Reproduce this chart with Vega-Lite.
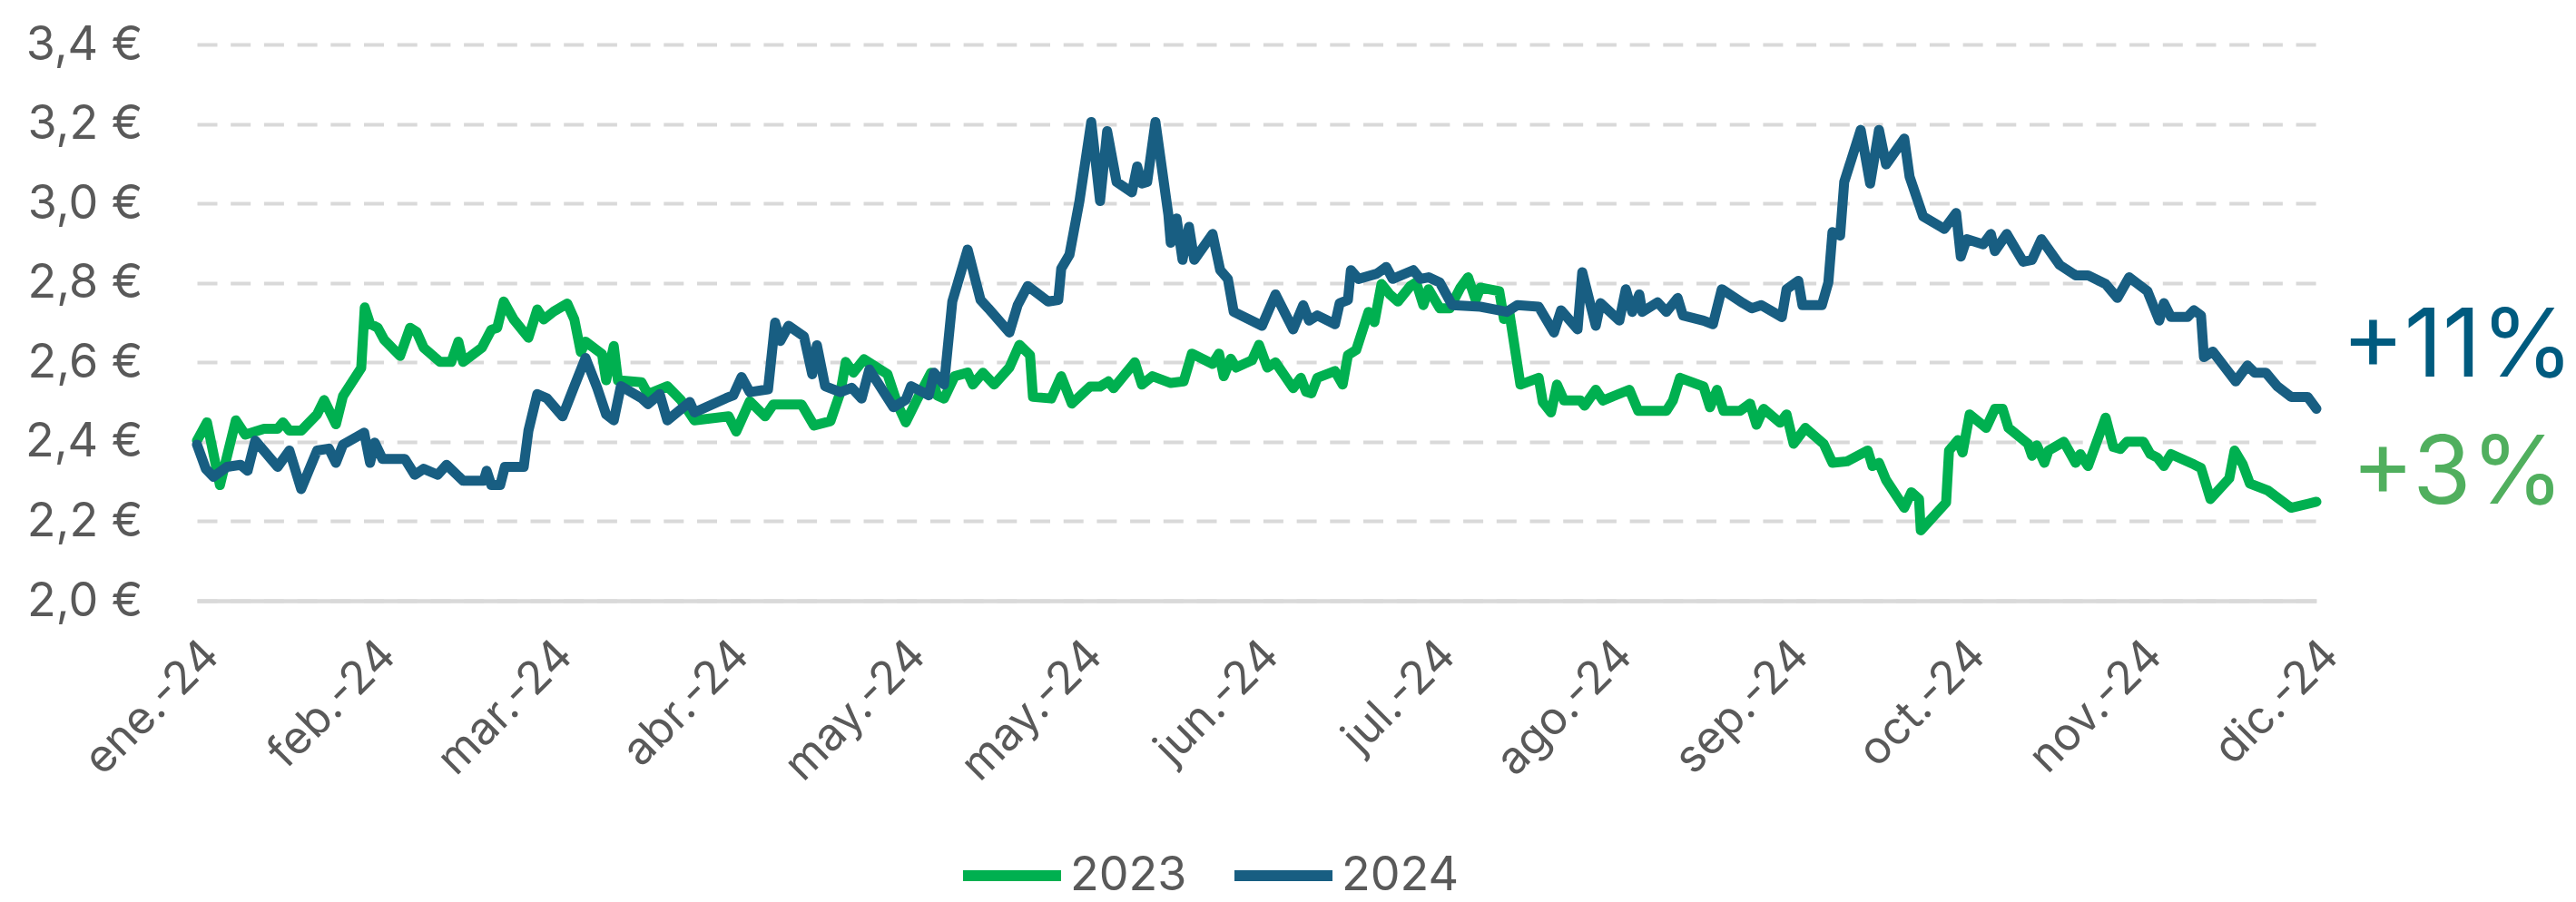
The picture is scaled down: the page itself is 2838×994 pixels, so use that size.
{
  "$schema": "https://vega.github.io/schema/vega-lite/v6.json",
  "width": 2335,
  "height": 613,
  "autosize": {"type": "none"},
  "padding": {"left": 217, "top": 49, "right": 286, "bottom": 332},
  "background": "white",
  "config": {"view": {"stroke": null}, "font": "Inter"},
  "datasets": {
    "prices": [
      {"s":"2023","d":0,"v":2.403},{"s":"2023","d":1.7,"v":2.449},{"s":"2023","d":3.9,"v":2.291},{"s":"2023","d":6.6,"v":2.454},{"s":"2023","d":8.2,"v":2.418},{"s":"2023","d":11.4,"v":2.433},{"s":"2023","d":13.7,"v":2.433},{"s":"2023","d":14.6,"v":2.449},{"s":"2023","d":15.7,"v":2.428},{"s":"2023","d":17.7,"v":2.428},{"s":"2023","d":20.4,"v":2.469},{"s":"2023","d":21.6,"v":2.505},{"s":"2023","d":23.6,"v":2.444},{"s":"2023","d":24.8,"v":2.515},{"s":"2023","d":27.9,"v":2.586},{"s":"2023","d":28.5,"v":2.738},{"s":"2023","d":29.4,"v":2.697},{"s":"2023","d":30.7,"v":2.687},{"s":"2023","d":31.8,"v":2.657},{"s":"2023","d":34.5,"v":2.616},{"s":"2023","d":36.2,"v":2.687},{"s":"2023","d":37.3,"v":2.677},{"s":"2023","d":38.5,"v":2.637},{"s":"2023","d":41.3,"v":2.601},{"s":"2023","d":43.2,"v":2.601},{"s":"2023","d":44.4,"v":2.652},{"s":"2023","d":45.2,"v":2.601},{"s":"2023","d":48.4,"v":2.637},{"s":"2023","d":50.0,"v":2.682},{"s":"2023","d":51.0,"v":2.687},{"s":"2023","d":52.1,"v":2.753},{"s":"2023","d":53.8,"v":2.708},{"s":"2023","d":56.3,"v":2.662},{"s":"2023","d":57.8,"v":2.733},{"s":"2023","d":58.9,"v":2.708},{"s":"2023","d":60.6,"v":2.728},{"s":"2023","d":62.9,"v":2.748},{"s":"2023","d":64.1,"v":2.708},{"s":"2023","d":65.2,"v":2.626},{"s":"2023","d":66.0,"v":2.652},{"s":"2023","d":68.8,"v":2.621},{"s":"2023","d":69.5,"v":2.555},{"s":"2023","d":70.8,"v":2.641},{"s":"2023","d":71.5,"v":2.555},{"s":"2023","d":75.5,"v":2.550},{"s":"2023","d":76.6,"v":2.520},{"s":"2023","d":79.9,"v":2.540},{"s":"2023","d":82.2,"v":2.505},{"s":"2023","d":84.5,"v":2.454},{"s":"2023","d":90.3,"v":2.464},{"s":"2023","d":91.6,"v":2.426},{"s":"2023","d":93.9,"v":2.502},{"s":"2023","d":96.5,"v":2.464},{"s":"2023","d":97.9,"v":2.494},{"s":"2023","d":102.7,"v":2.494},{"s":"2023","d":104.8,"v":2.441},{"s":"2023","d":107.6,"v":2.452},{"s":"2023","d":109.3,"v":2.525},{"s":"2023","d":110.2,"v":2.601},{"s":"2023","d":111.5,"v":2.574},{"s":"2023","d":113.3,"v":2.608},{"s":"2023","d":117.3,"v":2.570},{"s":"2023","d":119.0,"v":2.494},{"s":"2023","d":120.4,"v":2.449},{"s":"2023","d":122.4,"v":2.509},{"s":"2023","d":124.7,"v":2.574},{"s":"2023","d":125.7,"v":2.517},{"s":"2023","d":126.9,"v":2.509},{"s":"2023","d":128.7,"v":2.565},{"s":"2023","d":130.9,"v":2.574},{"s":"2023","d":131.8,"v":2.544},{"s":"2023","d":133.5,"v":2.574},{"s":"2023","d":135.4,"v":2.544},{"s":"2023","d":138.0,"v":2.587},{"s":"2023","d":139.7,"v":2.644},{"s":"2023","d":141.5,"v":2.618},{"s":"2023","d":142.0,"v":2.513},{"s":"2023","d":145.1,"v":2.509},{"s":"2023","d":146.8,"v":2.565},{"s":"2023","d":148.6,"v":2.496},{"s":"2023","d":151.7,"v":2.539},{"s":"2023","d":153.4,"v":2.539},{"s":"2023","d":154.8,"v":2.552},{"s":"2023","d":155.7,"v":2.535},{"s":"2023","d":159.3,"v":2.600},{"s":"2023","d":160.5,"v":2.544},{"s":"2023","d":162.3,"v":2.565},{"s":"2023","d":165.4,"v":2.548},{"s":"2023","d":167.6,"v":2.552},{"s":"2023","d":169.0,"v":2.622},{"s":"2023","d":172.5,"v":2.596},{"s":"2023","d":173.6,"v":2.622},{"s":"2023","d":174.4,"v":2.565},{"s":"2023","d":175.6,"v":2.609},{"s":"2023","d":176.5,"v":2.587},{"s":"2023","d":179.2,"v":2.605},{"s":"2023","d":180.4,"v":2.644},{"s":"2023","d":181.8,"v":2.587},{"s":"2023","d":183.2,"v":2.600},{"s":"2023","d":186.2,"v":2.535},{"s":"2023","d":187.5,"v":2.561},{"s":"2023","d":188.4,"v":2.526},{"s":"2023","d":189.3,"v":2.522},{"s":"2023","d":190.3,"v":2.561},{"s":"2023","d":193.3,"v":2.578},{"s":"2023","d":194.6,"v":2.544},{"s":"2023","d":195.5,"v":2.618},{"s":"2023","d":196.9,"v":2.631},{"s":"2023","d":199.0,"v":2.727},{"s":"2023","d":200.0,"v":2.701},{"s":"2023","d":201.2,"v":2.797},{"s":"2023","d":202.6,"v":2.771},{"s":"2023","d":204.0,"v":2.753},{"s":"2023","d":206.1,"v":2.792},{"s":"2023","d":207.1,"v":2.801},{"s":"2023","d":208.3,"v":2.744},{"s":"2023","d":209.2,"v":2.784},{"s":"2023","d":211.1,"v":2.736},{"s":"2023","d":212.8,"v":2.736},{"s":"2023","d":214.6,"v":2.788},{"s":"2023","d":215.9,"v":2.814},{"s":"2023","d":217.2,"v":2.757},{"s":"2023","d":218.0,"v":2.788},{"s":"2023","d":221.2,"v":2.779},{"s":"2023","d":222.0,"v":2.709},{"s":"2023","d":222.9,"v":2.727},{"s":"2023","d":224.8,"v":2.544},{"s":"2023","d":227.9,"v":2.561},{"s":"2023","d":228.6,"v":2.500},{"s":"2023","d":230.0,"v":2.474},{"s":"2023","d":231.0,"v":2.544},{"s":"2023","d":232.2,"v":2.504},{"s":"2023","d":235.0,"v":2.504},{"s":"2023","d":235.7,"v":2.491},{"s":"2023","d":237.6,"v":2.531},{"s":"2023","d":238.8,"v":2.504},{"s":"2023","d":243.3,"v":2.531},{"s":"2023","d":244.8,"v":2.478},{"s":"2023","d":249.6,"v":2.478},{"s":"2023","d":250.7,"v":2.504},{"s":"2023","d":251.9,"v":2.561},{"s":"2023","d":255.9,"v":2.539},{"s":"2023","d":257.0,"v":2.487},{"s":"2023","d":258.2,"v":2.531},{"s":"2023","d":259.3,"v":2.478},{"s":"2023","d":262.1,"v":2.478},{"s":"2023","d":263.8,"v":2.496},{"s":"2023","d":264.9,"v":2.443},{"s":"2023","d":266.1,"v":2.483},{"s":"2023","d":268.9,"v":2.448},{"s":"2023","d":270.0,"v":2.469},{"s":"2023","d":271.2,"v":2.395},{"s":"2023","d":273.2,"v":2.435},{"s":"2023","d":276.3,"v":2.395},{"s":"2023","d":277.8,"v":2.347},{"s":"2023","d":280.3,"v":2.351},{"s":"2023","d":283.8,"v":2.378},{"s":"2023","d":284.6,"v":2.339},{"s":"2023","d":285.7,"v":2.347},{"s":"2023","d":286.9,"v":2.304},{"s":"2023","d":290.0,"v":2.234},{"s":"2023","d":291.2,"v":2.273},{"s":"2023","d":292.5,"v":2.256},{"s":"2023","d":292.8,"v":2.177},{"s":"2023","d":297.1,"v":2.247},{"s":"2023","d":297.6,"v":2.378},{"s":"2023","d":299.1,"v":2.404},{"s":"2023","d":299.9,"v":2.373},{"s":"2023","d":301.1,"v":2.469},{"s":"2023","d":303.9,"v":2.435},{"s":"2023","d":305.4,"v":2.483},{"s":"2023","d":306.7,"v":2.483},{"s":"2023","d":307.7,"v":2.435},{"s":"2023","d":311.0,"v":2.395},{"s":"2023","d":311.7,"v":2.365},{"s":"2023","d":312.5,"v":2.391},{"s":"2023","d":313.8,"v":2.347},{"s":"2023","d":314.5,"v":2.378},{"s":"2023","d":317.1,"v":2.400},{"s":"2023","d":319.1,"v":2.347},{"s":"2023","d":319.9,"v":2.369},{"s":"2023","d":321.2,"v":2.339},{"s":"2023","d":324.2,"v":2.461},{"s":"2023","d":325.5,"v":2.387},{"s":"2023","d":326.7,"v":2.382},{"s":"2023","d":327.8,"v":2.400},{"s":"2023","d":330.6,"v":2.400},{"s":"2023","d":331.8,"v":2.369},{"s":"2023","d":333.0,"v":2.360},{"s":"2023","d":334.1,"v":2.339},{"s":"2023","d":335.3,"v":2.369},{"s":"2023","d":339.2,"v":2.343},{"s":"2023","d":340.4,"v":2.334},{"s":"2023","d":342.0,"v":2.256},{"s":"2023","d":345.2,"v":2.308},{"s":"2023","d":346.1,"v":2.378},{"s":"2023","d":347.5,"v":2.343},{"s":"2023","d":348.7,"v":2.295},{"s":"2023","d":351.8,"v":2.277},{"s":"2023","d":355.7,"v":2.234},{"s":"2023","d":360,"v":2.249},
      {"s":"2024","d":0,"v":2.393},{"s":"2024","d":1.5,"v":2.332},{"s":"2024","d":2.8,"v":2.312},{"s":"2024","d":5.1,"v":2.337},{"s":"2024","d":7.4,"v":2.342},{"s":"2024","d":8.6,"v":2.327},{"s":"2024","d":9.9,"v":2.403},{"s":"2024","d":13.7,"v":2.337},{"s":"2024","d":15.7,"v":2.378},{"s":"2024","d":17.7,"v":2.281},{"s":"2024","d":20.4,"v":2.378},{"s":"2024","d":22.4,"v":2.383},{"s":"2024","d":23.6,"v":2.347},{"s":"2024","d":24.8,"v":2.393},{"s":"2024","d":28.4,"v":2.423},{"s":"2024","d":29.4,"v":2.347},{"s":"2024","d":30.2,"v":2.398},{"s":"2024","d":31.5,"v":2.357},{"s":"2024","d":35.3,"v":2.357},{"s":"2024","d":37.0,"v":2.317},{"s":"2024","d":38.5,"v":2.332},{"s":"2024","d":40.9,"v":2.317},{"s":"2024","d":42.4,"v":2.342},{"s":"2024","d":45.2,"v":2.302},{"s":"2024","d":48.7,"v":2.302},{"s":"2024","d":49.2,"v":2.327},{"s":"2024","d":50.0,"v":2.291},{"s":"2024","d":51.5,"v":2.291},{"s":"2024","d":52.3,"v":2.337},{"s":"2024","d":55.5,"v":2.337},{"s":"2024","d":56.3,"v":2.428},{"s":"2024","d":57.8,"v":2.520},{"s":"2024","d":59.4,"v":2.510},{"s":"2024","d":62.1,"v":2.464},{"s":"2024","d":64.1,"v":2.540},{"s":"2024","d":66.0,"v":2.611},{"s":"2024","d":68.0,"v":2.535},{"s":"2024","d":69.5,"v":2.469},{"s":"2024","d":70.8,"v":2.454},{"s":"2024","d":72.0,"v":2.540},{"s":"2024","d":75.5,"v":2.510},{"s":"2024","d":76.6,"v":2.495},{"s":"2024","d":78.6,"v":2.520},{"s":"2024","d":79.9,"v":2.454},{"s":"2024","d":83.7,"v":2.500},{"s":"2024","d":84.5,"v":2.474},{"s":"2024","d":89.9,"v":2.510},{"s":"2024","d":91.1,"v":2.517},{"s":"2024","d":92.5,"v":2.563},{"s":"2024","d":93.9,"v":2.525},{"s":"2024","d":97.0,"v":2.532},{"s":"2024","d":98.2,"v":2.700},{"s":"2024","d":99.1,"v":2.654},{"s":"2024","d":100.5,"v":2.692},{"s":"2024","d":103.1,"v":2.665},{"s":"2024","d":104.5,"v":2.570},{"s":"2024","d":105.3,"v":2.643},{"s":"2024","d":106.7,"v":2.540},{"s":"2024","d":109.3,"v":2.525},{"s":"2024","d":111.2,"v":2.536},{"s":"2024","d":112.9,"v":2.509},{"s":"2024","d":114.2,"v":2.582},{"s":"2024","d":118.3,"v":2.487},{"s":"2024","d":120.4,"v":2.506},{"s":"2024","d":121.3,"v":2.540},{"s":"2024","d":124.3,"v":2.517},{"s":"2024","d":125.2,"v":2.574},{"s":"2024","d":126.9,"v":2.544},{"s":"2024","d":128.3,"v":2.753},{"s":"2024","d":130.9,"v":2.884},{"s":"2024","d":133.1,"v":2.757},{"s":"2024","d":134.4,"v":2.736},{"s":"2024","d":138.0,"v":2.675},{"s":"2024","d":139.4,"v":2.744},{"s":"2024","d":141.1,"v":2.792},{"s":"2024","d":144.6,"v":2.753},{"s":"2024","d":146.3,"v":2.757},{"s":"2024","d":146.8,"v":2.836},{"s":"2024","d":148.2,"v":2.871},{"s":"2024","d":149.9,"v":3.006},{"s":"2024","d":151.9,"v":3.205},{"s":"2024","d":153.4,"v":3.006},{"s":"2024","d":154.6,"v":3.182},{"s":"2024","d":156.2,"v":3.054},{"s":"2024","d":158.8,"v":3.028},{"s":"2024","d":159.7,"v":3.093},{"s":"2024","d":160.5,"v":3.050},{"s":"2024","d":161.4,"v":3.054},{"s":"2024","d":162.8,"v":3.205},{"s":"2024","d":165.0,"v":2.971},{"s":"2024","d":165.4,"v":2.901},{"s":"2024","d":166.4,"v":2.962},{"s":"2024","d":167.4,"v":2.858},{"s":"2024","d":168.5,"v":2.941},{"s":"2024","d":169.4,"v":2.858},{"s":"2024","d":172.5,"v":2.923},{"s":"2024","d":173.8,"v":2.832},{"s":"2024","d":175.1,"v":2.810},{"s":"2024","d":176.1,"v":2.727},{"s":"2024","d":180.9,"v":2.692},{"s":"2024","d":183.2,"v":2.771},{"s":"2024","d":186.2,"v":2.683},{"s":"2024","d":187.9,"v":2.744},{"s":"2024","d":188.9,"v":2.705},{"s":"2024","d":190.3,"v":2.718},{"s":"2024","d":193.3,"v":2.696},{"s":"2024","d":194.1,"v":2.749},{"s":"2024","d":195.5,"v":2.757},{"s":"2024","d":196.0,"v":2.832},{"s":"2024","d":197.3,"v":2.810},{"s":"2024","d":200.4,"v":2.823},{"s":"2024","d":202.0,"v":2.840},{"s":"2024","d":203.1,"v":2.810},{"s":"2024","d":206.6,"v":2.832},{"s":"2024","d":207.8,"v":2.810},{"s":"2024","d":209.2,"v":2.814},{"s":"2024","d":211.1,"v":2.801},{"s":"2024","d":213.2,"v":2.744},{"s":"2024","d":218.0,"v":2.740},{"s":"2024","d":222.5,"v":2.727},{"s":"2024","d":224.3,"v":2.744},{"s":"2024","d":227.9,"v":2.740},{"s":"2024","d":230.5,"v":2.675},{"s":"2024","d":231.7,"v":2.731},{"s":"2024","d":234.5,"v":2.683},{"s":"2024","d":235.3,"v":2.827},{"s":"2024","d":237.6,"v":2.692},{"s":"2024","d":238.4,"v":2.749},{"s":"2024","d":241.6,"v":2.705},{"s":"2024","d":242.7,"v":2.784},{"s":"2024","d":243.8,"v":2.727},{"s":"2024","d":245.0,"v":2.771},{"s":"2024","d":245.5,"v":2.727},{"s":"2024","d":248.1,"v":2.751},{"s":"2024","d":249.6,"v":2.727},{"s":"2024","d":251.5,"v":2.762},{"s":"2024","d":252.4,"v":2.718},{"s":"2024","d":255.9,"v":2.705},{"s":"2024","d":257.5,"v":2.696},{"s":"2024","d":259.0,"v":2.784},{"s":"2024","d":262.6,"v":2.749},{"s":"2024","d":264.1,"v":2.736},{"s":"2024","d":265.7,"v":2.744},{"s":"2024","d":269.2,"v":2.714},{"s":"2024","d":270.0,"v":2.784},{"s":"2024","d":272.0,"v":2.805},{"s":"2024","d":272.7,"v":2.744},{"s":"2024","d":276.0,"v":2.744},{"s":"2024","d":277.1,"v":2.801},{"s":"2024","d":277.8,"v":2.928},{"s":"2024","d":279.1,"v":2.919},{"s":"2024","d":279.8,"v":3.054},{"s":"2024","d":282.6,"v":3.185},{"s":"2024","d":284.2,"v":3.050},{"s":"2024","d":285.7,"v":3.185},{"s":"2024","d":286.9,"v":3.098},{"s":"2024","d":290.0,"v":3.163},{"s":"2024","d":290.9,"v":3.067},{"s":"2024","d":293.2,"v":2.967},{"s":"2024","d":296.8,"v":2.936},{"s":"2024","d":298.8,"v":2.976},{"s":"2024","d":299.6,"v":2.866},{"s":"2024","d":300.6,"v":2.910},{"s":"2024","d":303.4,"v":2.897},{"s":"2024","d":304.7,"v":2.923},{"s":"2024","d":305.4,"v":2.880},{"s":"2024","d":307.4,"v":2.923},{"s":"2024","d":310.2,"v":2.853},{"s":"2024","d":311.7,"v":2.858},{"s":"2024","d":313.3,"v":2.910},{"s":"2024","d":316.4,"v":2.845},{"s":"2024","d":319.1,"v":2.819},{"s":"2024","d":321.2,"v":2.819},{"s":"2024","d":324.2,"v":2.797},{"s":"2024","d":326.2,"v":2.762},{"s":"2024","d":328.2,"v":2.814},{"s":"2024","d":331.3,"v":2.779},{"s":"2024","d":333.3,"v":2.705},{"s":"2024","d":334.1,"v":2.749},{"s":"2024","d":335.3,"v":2.714},{"s":"2024","d":338.1,"v":2.714},{"s":"2024","d":339.2,"v":2.731},{"s":"2024","d":340.4,"v":2.718},{"s":"2024","d":340.9,"v":2.613},{"s":"2024","d":342.4,"v":2.627},{"s":"2024","d":346.3,"v":2.552},{"s":"2024","d":348.3,"v":2.592},{"s":"2024","d":349.5,"v":2.574},{"s":"2024","d":351.4,"v":2.574},{"s":"2024","d":353.4,"v":2.539},{"s":"2024","d":355.7,"v":2.513},{"s":"2024","d":358.5,"v":2.513},{"s":"2024","d":360,"v":2.483}
    ],
    "notes": [
      {"label": "+11%", "s": "2024", "d": 384, "v": 2.564},
      {"label": "+3%", "s": "2023", "d": 384, "v": 2.244}
    ]
  },
  "layer": [
    {
      "data": {"name": "prices"},
      "mark": {"type": "line", "strokeWidth": 11, "strokeJoin": "round", "strokeCap": "round"},
      "encoding": {
        "x": {
          "field": "d", "type": "quantitative",
          "scale": {"domain": [0, 360], "nice": false, "zero": false},
          "axis": {
            "values": [0, 30, 60, 90, 120, 150, 180, 210, 240, 270, 300, 330, 360],
            "labelExpr": "['ene.-24','feb.-24','mar.-24','abr.-24','may.-24','may.-24','jun.-24','jul.-24','ago.-24','sep.-24','oct.-24','nov.-24','dic.-24'][round(datum.value/30)]",
            "labelAngle": -45, "labelAlign": "right", "labelBaseline": "middle",
            "labelPadding": 52, "labelOffset": 16, "labelFontSize": 50, "labelColor": "#595959", "labelFont": "Inter",
            "labelOverlap": false, "labelFlush": false, "labelBound": false, "labelLimit": 0,
            "ticks": false, "grid": false,
            "domainColor": "#d9d9d9", "domainWidth": 4.5, "title": null
          }
        },
        "y": {
          "field": "v", "type": "quantitative",
          "scale": {"domain": [2.0, 3.4], "nice": false, "zero": false},
          "axis": {
            "values": [2.0, 2.2, 2.4, 2.6, 2.8, 3.0, 3.2, 3.4],
            "labelExpr": "replace(format(datum.value, '.1f'), '.', ',') + ' €'",
            "ticks": false, "domain": false,
            "gridColor": "#d9d9d9", "gridWidth": 4, "gridDash": [22, 14.7],
            "labelFontSize": 52, "labelColor": "#595959", "labelFont": "Inter",
            "labelPadding": 60, "title": null
          }
        },
        "color": {
          "field": "s", "type": "nominal",
          "scale": {"domain": ["2023", "2024"], "range": ["#00B050", "#185E82"]},
          "legend": {
            "orient": "none", "legendX": 838, "legendY": 856, "direction": "horizontal",
            "title": null, "symbolType": "stroke", "symbolStrokeWidth": 12, "symbolSize": 11664,
            "labelFontSize": 52, "labelColor": "#595959", "labelFont": "Inter",
            "columnPadding": 28, "labelOffset": 4
          }
        }
      }
    },
    {
      "data": {"name": "notes"},
      "transform": [{"filter": "datum.s === '2024'"}],
      "mark": {"type": "text", "align": "center", "baseline": "alphabetic", "fontSize": 104, "font": "Inter", "color": "#005B7F"},
      "encoding": {
        "x": {"field": "d", "type": "quantitative"},
        "y": {"field": "v", "type": "quantitative"},
        "text": {"field": "label"}
      }
    },
    {
      "data": {"name": "notes"},
      "transform": [{"filter": "datum.s === '2023'"}],
      "mark": {"type": "text", "align": "center", "baseline": "alphabetic", "fontSize": 104, "font": "Inter", "color": "#50AF5E"},
      "encoding": {
        "x": {"field": "d", "type": "quantitative"},
        "y": {"field": "v", "type": "quantitative"},
        "text": {"field": "label"}
      }
    }
  ]
}
